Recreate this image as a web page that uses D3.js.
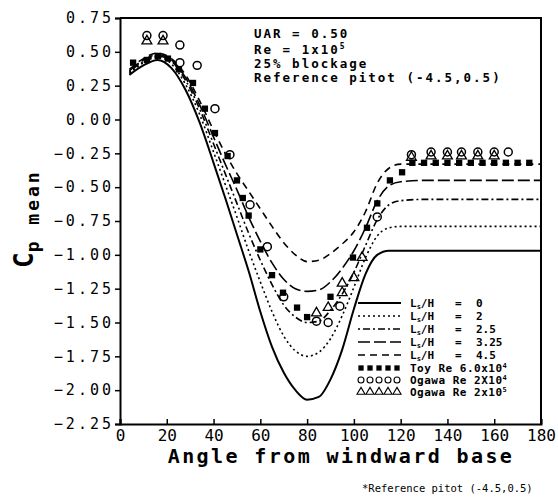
<!DOCTYPE html>
<html><head><meta charset="utf-8">
<script src="https://cdn.jsdelivr.net/npm/d3@7"></script>
<style>body{margin:0;background:#fff}svg{display:block}</style>
</head><body>
<script>
// ---- data ----
const angles = [4,10,16,22,28,34,40,45,50,55,60,65,70,75,80,85,90,95,100,105,110,115,120,130,140,150,160,170,180];
const lh0   = [0.33,0.40,0.44,0.38,0.22,-0.02,-0.32,-0.58,-0.85,-1.12,-1.42,-1.68,-1.87,-2.00,-2.07,-2.05,-1.92,-1.70,-1.40,-1.14,-1.00,-0.97,-0.97,-0.97,-0.97,-0.97,-0.97,-0.97,-0.97];
const lh2   = [0.34,0.42,0.46,0.41,0.26,0.04,-0.24,-0.48,-0.72,-0.97,-1.20,-1.42,-1.60,-1.71,-1.75,-1.72,-1.62,-1.45,-1.24,-1.02,-0.86,-0.80,-0.79,-0.79,-0.79,-0.79,-0.79,-0.79,-0.79];
const lh25  = [0.35,0.43,0.47,0.43,0.29,0.08,-0.18,-0.40,-0.62,-0.84,-1.04,-1.22,-1.37,-1.46,-1.50,-1.49,-1.41,-1.29,-1.13,-0.93,-0.74,-0.63,-0.60,-0.59,-0.59,-0.59,-0.59,-0.59,-0.59];
const lh325 = [0.36,0.44,0.48,0.44,0.31,0.11,-0.13,-0.33,-0.52,-0.72,-0.90,-1.06,-1.18,-1.25,-1.27,-1.26,-1.20,-1.10,-0.97,-0.80,-0.60,-0.49,-0.46,-0.45,-0.45,-0.45,-0.45,-0.45,-0.45];
const lh45  = [0.37,0.45,0.49,0.45,0.33,0.14,-0.08,-0.25,-0.40,-0.53,-0.66,-0.79,-0.91,-1.00,-1.05,-1.04,-0.99,-0.92,-0.83,-0.68,-0.47,-0.36,-0.33,-0.33,-0.33,-0.33,-0.33,-0.33,-0.33];

const toyAngles = [5.6,11.5,16.2,20.5,25.2,31.2,36.3,40.6,46,50,52.5,55,60,65,69.7,75.7,80,90,99.6,105.6,110,115.4,120.6,125,130,135,140,145,150,155,160,165,170,175];
const toyValues = [0.42,0.44,0.47,0.45,0.37,0.27,0.08,-0.10,-0.27,-0.45,-0.58,-0.71,-0.96,-1.15,-1.28,-1.39,-1.46,-1.31,-1.02,-0.80,-0.62,-0.45,-0.39,-0.32,-0.32,-0.32,-0.32,-0.32,-0.32,-0.32,-0.32,-0.32,-0.32,-0.32];

const ogawaAAngles = [11.5,18.4,25.6,25.6,33,40.6,47,55.6,63,70,84,89,94,110,124.6,133,140,146,153,160,166];
const ogawaAValues = [0.62,0.62,0.55,0.42,0.40,0.08,-0.26,-0.63,-0.94,-1.31,-1.49,-1.50,-1.38,-0.72,-0.26,-0.24,-0.24,-0.24,-0.24,-0.24,-0.24];

const ogawaBAngles = [11.5,18.4,84,89,95,95,100,103.5,124.6,133,140,146,153,160];
const ogawaBValues = [0.58,0.58,-1.43,-1.39,-1.28,-1.21,-1.17,-1.02,-0.28,-0.27,-0.27,-0.27,-0.27,-0.27];

const xTicks = [0,20,40,60,80,100,120,140,160,180];
const yTicks = [0.75,0.50,0.25,0.00,-0.25,-0.50,-0.75,-1.00,-1.25,-1.50,-1.75,-2.00,-2.25];
const lineLabels = ["0","2","2.5","3.25","4.5"];
const notes = ["UAR = 0.50","Re = 1x10","25% blockage","Reference pitot (-4.5,0.5)"];

// ---- drawing ----
const W=558,H=497;
const svg=d3.select("body").append("svg").attr("width",W).attr("height",H);
const x=d3.scaleLinear().domain([0,180]).range([120,541]);
const y=d3.scaleLinear().domain([-2.25,0.75]).range([424,18]);
const mono="'DejaVu Sans Mono', monospace";

// axes
const ya=svg.append("g").attr("transform","translate(120,0)")
  .call(d3.axisLeft(y).tickValues(yTicks).tickSize(5).tickPadding(4).tickFormat(d=>d3.format(".2f")(d)));
ya.selectAll("text").attr("font-family",mono).attr("font-size",15)
  .attr("letter-spacing",3).attr("fill","#000").attr("dx",3);
const xa=svg.append("g").attr("transform","translate(0,424)")
  .call(d3.axisBottom(x).tickValues(xTicks).tickSize(-5).tickPadding(6));
xa.selectAll("text").attr("font-family",mono).attr("font-size",16).attr("fill","#000");
svg.selectAll(".domain").attr("stroke","#000").attr("stroke-width",2);
svg.selectAll(".tick line").attr("stroke","#000").attr("stroke-width",1.5);
// frame top/right
svg.append("path").attr("d",`M120,${y(0.75)}H541V424`).attr("fill","none").attr("stroke","#000").attr("stroke-width",2);

// lines
const series=[
  {v:lh0,dash:null,w:2},
  {v:lh2,dash:"2,3",w:1.6},
  {v:lh25,dash:"2,3,7,3",w:1.6},
  {v:lh325,dash:"12,4",w:1.6},
  {v:lh45,dash:"7,5",w:1.6}
];
const line=d3.line().x(d=>x(d[0])).y(d=>y(d[1])).curve(d3.curveMonotoneX);
series.forEach(s=>{
  svg.append("path").attr("d",line(angles.map((a,i)=>[a,s.v[i]])))
    .attr("fill","none").attr("stroke","#000").attr("stroke-width",s.w)
    .attr("stroke-dasharray",s.dash);
});

// markers
const sq=d3.symbol().type(d3.symbolSquare).size(40);
const ci=d3.symbol().type(d3.symbolCircle).size(50);
const tr=d3.symbol().type(d3.symbolTriangle).size(42);
svg.append("g").selectAll("path").data(toyAngles.map((a,i)=>[a,toyValues[i]])).join("path")
  .attr("d",sq()).attr("transform",d=>`translate(${x(d[0])},${y(d[1])})`).attr("fill","#000");
svg.append("g").selectAll("path").data(ogawaAAngles.map((a,i)=>[a,ogawaAValues[i]])).join("path")
  .attr("d",ci()).attr("transform",d=>`translate(${x(d[0])},${y(d[1])})`).attr("fill","none").attr("stroke","#000").attr("stroke-width",1.5);
svg.append("g").selectAll("path").data(ogawaBAngles.map((a,i)=>[a,ogawaBValues[i]])).join("path")
  .attr("d",tr()).attr("transform",d=>`translate(${x(d[0])},${y(d[1])})`).attr("fill","none").attr("stroke","#000").attr("stroke-width",1.3);

// notes
const nt=svg.append("g").attr("font-family",mono).attr("font-size",12.5).attr("font-weight","bold").attr("letter-spacing",2);
const nb=[38,54,68,82];
notes.forEach((t,i)=>{
  const tx=nt.append("text").attr("x",254).attr("y",nb[i]).text(t);
  if(i===1) tx.append("tspan").attr("dy",-5).attr("font-size",8).text("5");
});

// legend
const lg=svg.append("g").attr("font-family",mono).attr("font-size",11).attr("font-weight","bold");
const rowY=[303,316,329,342,355,368,380,392];
series.forEach((s,i)=>{
  lg.append("line").attr("x1",358).attr("x2",401).attr("y1",rowY[i]).attr("y2",rowY[i])
    .attr("stroke","#000").attr("stroke-width",s.w).attr("stroke-dasharray",s.dash);
  const t=lg.append("text").attr("x",410).attr("y",rowY[i]+4);
  t.append("tspan").text("L");
  t.append("tspan").attr("dy",2).attr("font-size",7).text("s");
  t.append("tspan").attr("dy",-2).text("/H");
  lg.append("text").attr("x",455).attr("y",rowY[i]+4).text("=");
  lg.append("text").attr("x",476).attr("y",rowY[i]+4).text(lineLabels[i]);
});
const mk=[[sq,"#000","none"],[ci,"none","#000"],[tr,"none","#000"]];
const mkText=[["Toy Re 6.0x10","4"],["Ogawa Re 2X10","4"],["Ogawa Re 2x10","5"]];
mk.forEach((m,j)=>{
  const ry=rowY[5+j];
  d3.range(5).forEach(k=>{
    lg.append("path").attr("d",d3.symbol().type(m[0].type()).size(28)()).attr("transform",`translate(${361+k*9},${ry})`)
      .attr("fill",m[1]).attr("stroke",m[2]).attr("stroke-width",1.1);
  });
  const t=lg.append("text").attr("x",410).attr("y",ry+4).attr("letter-spacing",0.5).text(mkText[j][0]);
  t.append("tspan").attr("dy",-4).attr("font-size",7).text(mkText[j][1]);
});

// axis titles
svg.append("text").attr("x",341).attr("y",463).attr("text-anchor","middle")
  .attr("font-family",mono).attr("font-weight","bold").attr("font-size",20).attr("letter-spacing",2.4)
  .text("Angle from windward base");
svg.append("text").attr("x",362).attr("y",492)
  .attr("font-family",mono).attr("font-size",10.5).text("*Reference pitot (-4.5,0.5)");
const yl=svg.append("text").attr("transform","translate(33,268) rotate(-90)")
  .attr("font-family",mono).attr("font-weight","bold");
yl.append("tspan").attr("font-size",26).text("C");
yl.append("tspan").attr("font-size",18).attr("dy",6).attr("letter-spacing",3).text("p mean");
</script>
</body></html>
